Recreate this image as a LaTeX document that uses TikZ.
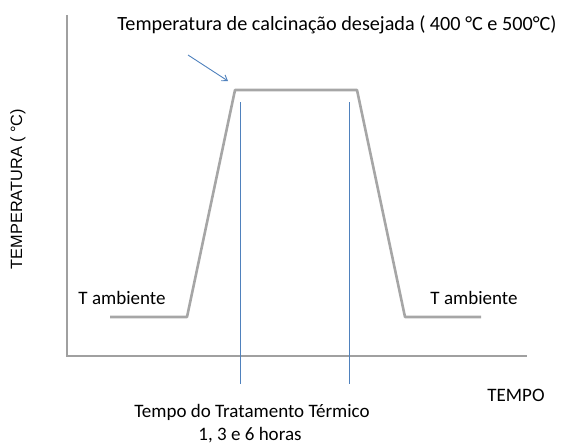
\documentclass[tikz,border=0pt]{standalone}
\usepackage{fontspec}
\setmainfont{Carlito}
\newfontfamily\ylabfont{Liberation Sans}
\usetikzlibrary{arrows.meta}
\definecolor{curvegray}{HTML}{A6A6A6}
\definecolor{axisgray}{HTML}{A0A0A0}
\definecolor{markblue}{HTML}{4F81BD}
\begin{document}
\begin{tikzpicture}[x=1pt,y=-1pt,
  axis/.style={draw=axisgray,line width=2.6pt},
  curve/.style={draw=curvegray,line width=2.6pt,line join=round},
  mark line/.style={draw=markblue,line width=0.9pt},
  lbl/.style={font=\fontsize{19}{22}\selectfont,inner sep=0pt}]
\useasboundingbox (0,0) rectangle (570,444);
\coordinate (ytop) at (67,15);
\coordinate (orig) at (67,356);
\coordinate (xend) at (527,356);
\draw[axis] (ytop) -- (orig) -- (xend);
\coordinate (c1) at (110,317);
\coordinate (c2) at (187,317);
\coordinate (c3) at (235,90);
\coordinate (c4) at (357,90);
\coordinate (c5) at (405,317);
\coordinate (c6) at (481,317);
\draw[curve] (c1) -- (c2) -- (c3) -- (c4) -- (c5) -- (c6);
\coordinate (b1t) at (240,102);
\coordinate (b1b) at (240,384);
\coordinate (b2t) at (349,102);
\coordinate (b2b) at (349,384);
\draw[mark line] (b1t) -- (b1b);
\draw[mark line] (b2t) -- (b2b);
\node[lbl,font=\fontsize{20.2}{24}\selectfont] (title) at (337,25) {Temperatura de calcinação desejada ( 400 °C e 500°C)};
\coordinate (as) at (188,55);
\coordinate (ae) at (228,81);
\draw[mark line,-{Straight Barb[length=5pt,width=7pt]}] (as) -- (ae);
\node[inner sep=0pt,rotate=90,font=\ylabfont\fontsize{16.3}{19}\selectfont] (ylab) at (18,189) {TEMPERATURA ( °C)};
\node[lbl] (tal) at (122,298) {T ambiente};
\node[lbl] (tar) at (474,298) {T ambiente};
\node[lbl] (tempo) at (516,395) {TEMPO};
\node[lbl] (tt1) at (252,412) {Tempo do Tratamento Térmico};
\node[lbl] (tt2) at (250,435) {1, 3 e 6 horas};
\end{tikzpicture}
\end{document}
